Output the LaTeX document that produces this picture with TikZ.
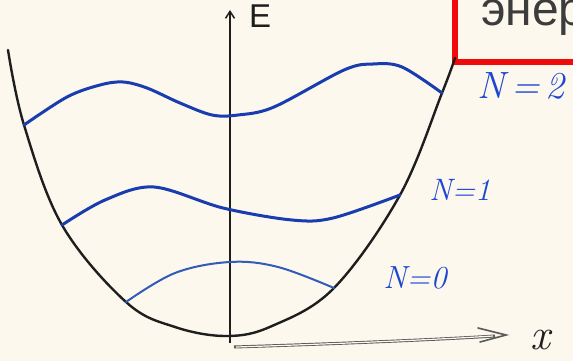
\documentclass[tikz,border=0pt]{standalone}
\usepackage{fontspec}
\setmainfont{Liberation Sans}
\newfontfamily\lmfont{Latin Modern Roman}
\usetikzlibrary{arrows.meta}
\definecolor{paper}{RGB}{252,248,238}
\definecolor{ink}{RGB}{30,30,30}
\definecolor{wave}{RGB}{25,60,175}
\definecolor{wavelight}{RGB}{50,90,185}
\definecolor{lbl}{RGB}{30,70,210}
\definecolor{boxred}{RGB}{240,10,10}
\definecolor{boxtext}{RGB}{60,60,60}
\tikzset{
  curve/.style={ink, line width=2.4pt, line cap=round, line join=round},
  level/.style={wave, line width=3pt, line cap=round, line join=round},
  levelthin/.style={wavelight, line width=2pt, line cap=round, line join=round},
  lvl/.style={lbl, inner sep=0pt},
}
\begin{document}
\begin{tikzpicture}[x=1pt,y=-1pt]
\useasboundingbox (0,0) rectangle (573,361);
\fill[paper] (0,0) rectangle (573,361);
% red box with text
\draw[boxred, line width=5.5pt] (455,-30) rectangle (620,62);
\node[anchor=base west, inner sep=0pt, text=boxtext, font=\fontsize{48}{50}\selectfont] (title) at (481,26) {энер};
% potential well
\draw[curve] plot[smooth, tension=0.6] coordinates {(8,50) (24,125) (62,225) (126,302) (175,327) (227,336) (272,326) (334,288) (400,195) (442,93) (455,58)};
% E axis
\coordinate (ebot) at (230,343);
\coordinate (etop) at (230,10);
\draw[ink, line width=1.5pt, -{Straight Barb[length=7pt,width=9pt]}] (ebot) -- (etop);
\node[ink, font=\fontsize{33}{33}\selectfont, anchor=west, inner sep=0pt] (E) at (249,16) {E};
% x axis
\coordinate (xl) at (234,347);
\coordinate (xr) at (506,335);
\draw[gray!70!black, line width=3pt] (xl) .. controls (330,344) and (430,340) .. (495,336);
\draw[paper, line width=1.2pt] (236,347) .. controls (330,344) and (430,340) .. (493,336);
\draw[gray!70!black, line width=1.6pt, line cap=round] (478,328) -- (xr) -- (480,342);
\node[ink, font=\lmfont\itshape\fontsize{44}{44}\selectfont, inner sep=0pt] (x) at (540,340) {x};
% energy levels
\draw[level] plot[smooth, tension=0.55] coordinates {(24,125) (67,97) (100,85) (123,82) (147,88) (180,103) (212,115) (238,115) (274,107) (344,70) (373,64) (402,67) (442,93)};
\draw[level] plot[smooth, tension=0.55] coordinates {(62,225) (105,200) (154,187) (223,208) (292,220) (333,218) (400,195)};
\draw[levelthin] plot[smooth, tension=0.6] coordinates {(126,302) (175,273) (230,262) (278,267) (334,288)};
% labels
\node[lvl, font=\lmfont\itshape\fontsize{38}{40}\selectfont] (n2) at (521,86) {N\,=\,2};
\node[lvl, font=\lmfont\itshape\fontsize{31}{33}\selectfont] (n1) at (460,190) {N=1};
\node[lvl, font=\lmfont\itshape\fontsize{32}{34}\selectfont] (n0) at (415,278) {N=0};
\end{tikzpicture}
\end{document}
